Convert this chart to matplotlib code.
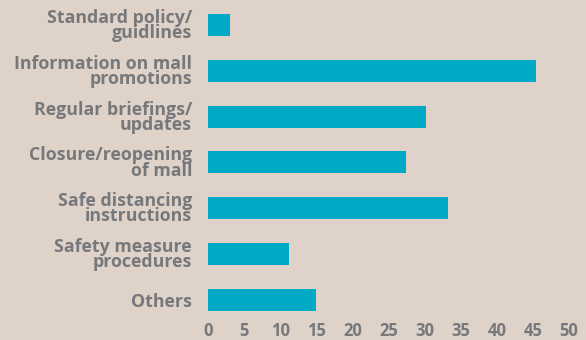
import matplotlib
matplotlib.use('Agg')
import matplotlib.pyplot as plt

categories = ['Standard policy/\nguidlines', 'Information on mall\npromotions',
              'Regular briefings/\nupdates', 'Closure/reopening\nof mall',
              'Safe distancing\ninstructions', 'Safety measure\nprocedures',
              'Others']
values = [3, 45.4, 30.2, 27.4, 33.3, 11.2, 15]
xticks = [0, 5, 10, 15, 20, 25, 30, 35, 40, 45, 50]

bg = '#dfd3c9'
bar_color = '#00aac6'
text_color = '#77787b'

plt.rcParams['font.family'] = ['Open Sans', 'DejaVu Sans']

fig = plt.figure(figsize=(5.86, 3.40), dpi=100, facecolor=bg)
ax = fig.add_axes([208 / 586, 1 - 316 / 340, 361 / 586, 314 / 340])
ax.set_facecolor(bg)

pos = list(range(len(categories)))
ax.barh(pos, values, height=0.48, color=bar_color)
ax.set_ylim(6.35, -0.5)
ax.set_xlim(0, 50)
ax.set_xticks(xticks)
ax.set_yticks(pos)
ax.set_yticklabels(categories, linespacing=0.8, fontweight='bold',
                   fontsize=12.8, color=text_color)
ax.tick_params(axis='both', length=0)
ax.tick_params(axis='y', pad=11.5)
ax.tick_params(axis='x', pad=4, labelsize=12, labelcolor=text_color)
for lbl in ax.get_xticklabels():
    lbl.set_fontweight('bold')
for s in ax.spines.values():
    s.set_visible(False)

plt.savefig('out.png', dpi=100, facecolor=bg)
